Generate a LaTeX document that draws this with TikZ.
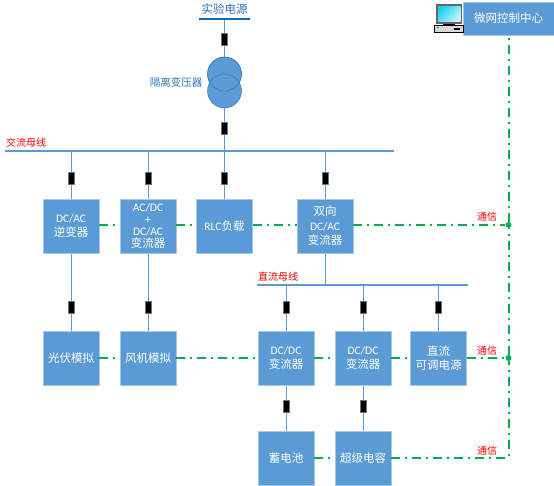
\documentclass[tikz,border=0pt]{standalone}
\usepackage{fontspec}
\setmainfont{Carlito}
\newfontfamily\cjk{Noto Sans CJK SC}
\usetikzlibrary{positioning, backgrounds}
\definecolor{BoxBlue}{HTML}{5B9BD5}
\definecolor{BoxEdge}{HTML}{A9C6E6}
\definecolor{BusBlue}{HTML}{5B9BD5}
\definecolor{SrcBlue}{HTML}{0070C0}
\definecolor{TrafoEdge}{HTML}{2E75B6}
\definecolor{CommGreen}{HTML}{00B050}
\definecolor{BusRed}{HTML}{FF0000}
\definecolor{ScreenCyan}{HTML}{19D3F0}

\begin{document}
\begin{tikzpicture}[
    x=1pt, y=-1pt,
    unit/.style={
        draw=BoxEdge, line width=0.8pt, fill=BoxBlue, minimum width=56pt, minimum height=54pt,
        inner sep=0pt, align=center, text=white, font=\fontsize{11.5}{14.5}\selectfont
    },
    brk/.style={draw=black!55, line width=0.4pt, fill=black, minimum width=6pt, minimum height=12pt, inner sep=0pt},
    wire/.style={BusBlue, line width=1pt},
    bus/.style={BusBlue, line width=2pt},
    comm/.style={CommGreen, line width=2pt, dash pattern=on 9pt off 5pt on 2pt off 5pt},
    dot/.style={circle, fill=CommGreen, minimum size=6pt, inner sep=0pt},
    redlbl/.style={text=BusRed, font=\fontsize{10}{12}\selectfont\cjk, inner sep=0pt},
    bluelbl/.style={text=TrafoEdge, font=\fontsize{10.5}{12}\selectfont\cjk, inner sep=0pt}
]
\useasboundingbox (0,0) rectangle (554,485);

% === Buses ===
\coordinate (srcL) at (199,18.5);
\coordinate (srcR) at (250,18.5);
\coordinate (srcT) at (224.5,18.5);
\coordinate (acL) at (5,151);
\coordinate (acR) at (394,151);
\coordinate (ac1) at (71,151);
\coordinate (ac2) at (148,151);
\coordinate (ac3) at (224.5,151);
\coordinate (ac4) at (325,151);
\coordinate (dcL) at (257,284.5);
\coordinate (dcR) at (468,284.5);
\coordinate (dc0) at (325,284.5);
\coordinate (dc1) at (286,284.5);
\coordinate (dc2) at (363,284.5);
\coordinate (dc3) at (438,284.5);

% === Converter and source blocks ===
\node[unit] (inv) at (71,226) {DC/AC\\{\cjk 逆变器}};
\node[unit, font=\fontsize{11.5}{12}\selectfont] (acdc) at (148,226) {AC/DC\\+\\DC/AC\\{\cjk 变流器}};
\node[unit] (rlc) at (224.5,226) {RLC{\cjk 负载}};
\node[unit] (bidir) at (325,226) {{\cjk 双向}\\DC/AC\\{\cjk 变流器}};
\node[unit] (pv) at (71,358) {\cjk 光伏模拟};
\node[unit] (wind) at (148,358) {\cjk 风机模拟};
\node[unit] (dcdc1) at (286,358) {DC/DC\\{\cjk 变流器}};
\node[unit] (dcdc2) at (363,358) {DC/DC\\{\cjk 变流器}};
\node[unit] (dcsrc) at (438.5,358) {{\cjk 直流}\\{\cjk 可调电源}};
\node[unit] (batt) at (286,458) {\cjk 蓄电池};
\node[unit] (scap) at (363,458) {\cjk 超级电容};
\node[unit, minimum width=91pt, minimum height=33pt, font=\fontsize{11.5}{14}\selectfont\cjk] (ctrl) at (508.5,18.5) {微网控制中心};

% === Transformer ===
\node[circle, draw=TrafoEdge, fill=BoxBlue, minimum size=34pt, inner sep=0pt] (trafoT) at (224.5,74) {};
\node[circle, draw=TrafoEdge, fill=BoxBlue, minimum size=34pt, inner sep=0pt] (trafoB) at (224.5,91) {};
\draw[TrafoEdge] (224.5,74) circle (17pt);

% === Breakers ===
\node[brk] (b0) at (224.5,39) {};
\node[brk] (b00) at (224.5,128) {};
\node[brk] (b1) at (71,178) {};
\node[brk] (b2) at (148,178) {};
\node[brk] (b3) at (224.5,178) {};
\node[brk] (b4) at (325,178) {};
\node[brk] (b5) at (71,307) {};
\node[brk] (b6) at (148,307) {};
\node[brk] (b7) at (286,307) {};
\node[brk] (b8) at (363,307) {};
\node[brk] (b9) at (438,307) {};
\node[brk] (b10) at (286,406) {};
\node[brk] (b11) at (363,406) {};

% === Communication junctions ===
\node[dot] (j1) at (508.5,225) {};
\node[dot] (j2) at (508.5,358) {};
\coordinate (j3) at (508.5,458);

% === Power wiring ===
\begin{scope}[on background layer]
\draw[wire] (srcT) -- (b0) -- (trafoT);
\draw[wire] (trafoB) -- (b00) -- (ac3);
\draw[wire] (ac1) -- (b1) -- (inv);
\draw[wire] (ac2) -- (b2) -- (acdc);
\draw[wire] (ac3) -- (b3) -- (rlc);
\draw[wire] (ac4) -- (b4) -- (bidir);
\draw[wire] (inv) -- (b5) -- (pv);
\draw[wire] (acdc) -- (b6) -- (wind);
\draw[wire] (bidir) -- (dc0);
\draw[wire] (dc1) -- (b7) -- (dcdc1);
\draw[wire] (dc2) -- (b8) -- (dcdc2);
\draw[wire] (dc3) -- (b9) -- (dcsrc.north -| dc3);
\draw[wire] (dcdc1) -- (b10) -- (batt);
\draw[wire] (dcdc2) -- (b11) -- (scap);
\end{scope}
\draw[SrcBlue, line width=2pt] (srcL) -- (srcR);
\draw[bus] (acL) -- (acR);
\draw[bus] (dcL) -- (dcR);

% === Communication lines ===
\draw[comm] (inv.east |- j1) -- (acdc.west |- j1);
\draw[comm] (acdc.east |- j1) -- (rlc.west |- j1);
\draw[comm] (rlc.east |- j1) -- (bidir.west |- j1);
\draw[comm] (bidir.east |- j1) -- (j1);
\draw[comm] (pv.east) -- (wind.west);
\draw[comm] (wind.east) -- (dcdc1.west);
\draw[comm] (dcdc1.east) -- (dcdc2.west);
\draw[comm] (dcdc2.east) -- (dcsrc.west);
\draw[comm] (dcsrc.east) -- (j2);
\draw[comm] (batt.east) -- (scap.west);
\draw[comm] (scap.east) -- (j3) -- (j2);
\draw[comm] (j2) -- (j1);
\draw[comm] (j1) -- (ctrl.south);

% === Labels ===
\node[bluelbl, font=\fontsize{11.5}{12}\selectfont\cjk] (srclbl) at (224.5,9) {实验电源};
\node[bluelbl] (trafolbl) at (176,82) {隔离变压器};
\node[redlbl, anchor=west] (aclbl) at (6,143) {交流母线};
\node[redlbl, anchor=west] (dclbl) at (258,277) {直流母线};
\node[redlbl] (com1) at (487,217) {通信};
\node[redlbl] (com2) at (487,351) {通信};
\node[redlbl] (com3) at (487,451) {通信};

% === Computer icon ===
\fill[black!60] (436,4) rectangle (462,23.5);
\shade[left color=ScreenCyan, right color=white!75!ScreenCyan, shading angle=45] (438,6) rectangle (460.5,21.5);
\fill[black] (443,23.5) rectangle (455,25);
\draw[black, line width=0.8pt, fill=black!15] (434.5,25) rectangle (463,32.5);
\fill[black] (454,27.5) rectangle (460,29.5);
\fill[CommGreen] (437,27) rectangle (438.5,28);
\end{tikzpicture}
\end{document}
